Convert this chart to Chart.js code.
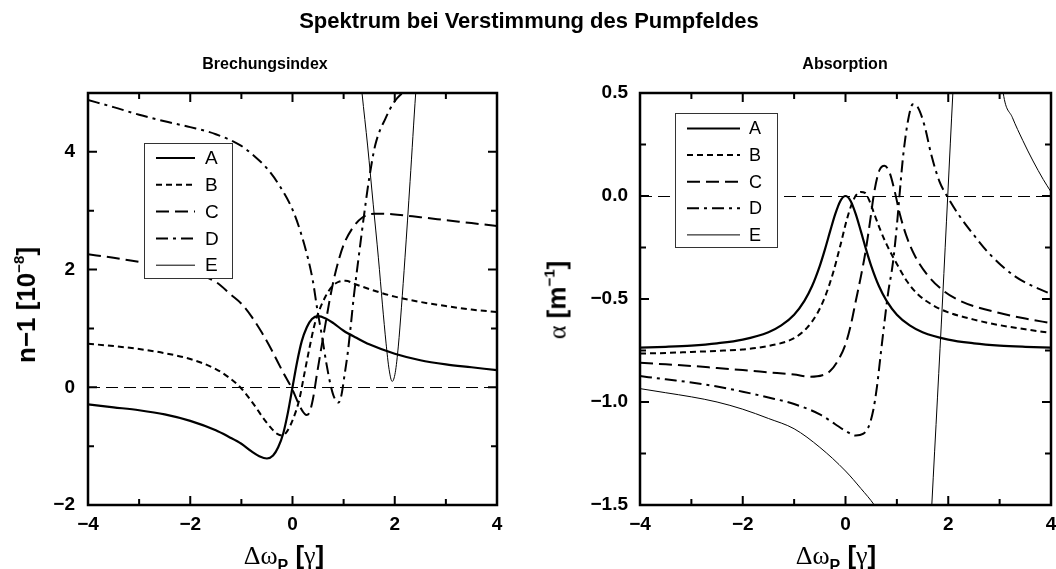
<!DOCTYPE html>
<html lang="de">
<head>
<meta charset="utf-8">
<title>Spektrum bei Verstimmung des Pumpfeldes</title>
<script src="https://cdn.jsdelivr.net/npm/chart.js@4.4.1/dist/chart.umd.min.js"></script>
<style>
  html, body { margin: 0; padding: 0; background: #fff; }
  body { position: relative; width: 1056px; height: 569px; overflow: hidden;
         font-family: 'Liberation Sans', Arial, Helvetica, sans-serif; color: #000; }
  canvas { position: absolute; top: 0; }
  #cvBrech { left: 0; }
  #cvAbs { left: 530px; }
  .txt { position: absolute; white-space: nowrap; line-height: 1; font-weight: bold; }
  .greek { font-family: 'Liberation Serif', 'DejaVu Serif', serif; font-weight: normal; }
  .sup { font-size: 15px; position: relative; top: -11px; }
  .sub { font-size: 16px; position: relative; top: 7px; }
  .ytitle { transform: translate(-50%, -50%) rotate(-90deg); font-size: 26px; }
  .xtitle { width: 200px; text-align: center; font-size: 26px; top: 542px; }
</style>
</head>
<body>
<canvas id="cvBrech" width="530" height="569"></canvas>
<canvas id="cvAbs" width="540" height="569"></canvas>

<div class="txt" style="left:0; width:1058px; top:10px; text-align:center; font-size:22px;">Spektrum bei Verstimmung des Pumpfeldes</div>
<div class="txt" style="left:165px; width:200px; top:56px; text-align:center; font-size:16px;">Brechungsindex</div>
<div class="txt" style="left:745px; width:200px; top:56px; text-align:center; font-size:16px;">Absorption</div>

<div class="txt ytitle" style="left:26px; top:305px;">n&minus;1 [10<span class="sup">&minus;8</span>]</div>
<div class="txt ytitle" style="left:557px; top:300px;"><span class="greek">&alpha;</span> [m<span class="sup">&minus;1</span>]</div>

<div class="txt xtitle" style="left:184px;"><span class="greek">&Delta;&omega;</span><span class="sub">P</span> [<span class="greek">&gamma;</span>]</div>
<div class="txt xtitle" style="left:736px;"><span class="greek">&Delta;&omega;</span><span class="sub">P</span> [<span class="greek">&gamma;</span>]</div>

<script>
// Kurven A–E, jeweils [Verstimmung, Wert]
const seriesNames = ['A', 'B', 'C', 'D', 'E'];

// Brechungsindex n-1 in 1e-8
const brechA = [[-4,-0.29],[-3.5,-0.34],[-3,-0.39],[-2.5,-0.46],[-2,-0.57],[-1.5,-0.73],[-1.25,-0.84],[-1,-0.96],
  [-0.8,-1.09],[-0.65,-1.17],[-0.5,-1.21],[-0.38,-1.16],[-0.28,-1.02],[-0.18,-0.78],[-0.09,-0.43],[0,0],
  [0.09,0.43],[0.18,0.78],[0.28,1.02],[0.38,1.16],[0.5,1.21],[0.65,1.17],[0.8,1.09],[1,0.96],[1.25,0.84],
  [1.5,0.73],[2,0.57],[2.5,0.46],[3,0.39],[3.5,0.34],[4,0.29]];
const brechB = [[-4,0.74],[-3.5,0.7],[-3,0.65],[-2.5,0.58],[-2,0.48],[-1.5,0.31],[-1.25,0.17],[-1,-0.02],
  [-0.75,-0.3],[-0.55,-0.55],[-0.4,-0.71],[-0.3,-0.79],[-0.2,-0.82],[-0.1,-0.74],[0.02,-0.52],[0.13,-0.22],
  [0.23,0.22],[0.33,0.66],[0.43,1.06],[0.52,1.3],[0.65,1.55],[0.77,1.71],[0.9,1.79],[1.04,1.81],[1.23,1.75],
  [1.5,1.67],[1.75,1.6],[2,1.54],[2.5,1.45],[3,1.38],[3.5,1.32],[4,1.28]];
const brechC = [[-4,2.26],[-3.5,2.2],[-3,2.13],[-2.5,2.06],[-2,1.96],[-1.5,1.79],[-1.2,1.57],[-1,1.42],
  [-0.8,1.2],[-0.6,0.93],[-0.4,0.62],[-0.2,0.28],[0,-0.04],[0.12,-0.28],[0.2,-0.41],[0.27,-0.47],[0.33,-0.43],
  [0.4,-0.2],[0.47,0.18],[0.55,0.6],[0.63,1.0],[0.72,1.45],[0.8,1.8],[0.9,2.15],[1.0,2.42],[1.17,2.7],
  [1.36,2.88],[1.6,2.95],[1.95,2.94],[2.5,2.89],[3,2.84],[3.5,2.79],[4,2.74]];
const brechD = [[-4,4.88],[-3.5,4.76],[-3,4.63],[-2.5,4.52],[-2,4.42],[-1.5,4.3],[-1,4.1],[-0.75,3.93],
  [-0.5,3.72],[-0.25,3.42],[0,3.02],[0.15,2.66],[0.3,2.2],[0.4,1.8],[0.48,1.35],[0.58,0.85],[0.66,0.42],
  [0.75,0.02],[0.82,-0.18],[0.9,-0.26],[0.96,-0.12],[1.02,0.22],[1.08,0.58],[1.14,1.05],[1.2,1.55],[1.3,2.25],
  [1.4,2.93],[1.5,3.55],[1.62,4.12],[1.82,4.57],[2.0,4.86],[2.15,5.0],[2.3,5.12]];
const brechE = [[1.25,6.0],[1.36,5.0],[1.47,4.1],[1.58,3.1],[1.68,2.2],[1.76,1.4],[1.83,0.75],[1.89,0.3],
  [1.95,0.1],[2.01,0.25],[2.07,0.7],[2.13,1.35],[2.2,2.2],[2.3,3.5],[2.41,5.0],[2.5,6.0]];

// Absorption alpha in 1/m
const absA = [[-4,-0.736],[-3.5,-0.732],[-3,-0.726],[-2.5,-0.715],[-2,-0.697],[-1.5,-0.661],[-1.25,-0.628],
  [-1,-0.576],[-0.8,-0.509],[-0.65,-0.437],[-0.5,-0.339],[-0.4,-0.259],[-0.3,-0.172],[-0.2,-0.088],[-0.1,-0.024],
  [0,0],[0.1,-0.024],[0.2,-0.088],[0.3,-0.172],[0.4,-0.259],[0.5,-0.339],[0.65,-0.437],[0.8,-0.509],[1,-0.576],
  [1.25,-0.628],[1.5,-0.661],[2,-0.697],[2.5,-0.715],[3,-0.726],[3.5,-0.732],[4,-0.736]];
const absB = [[-4,-0.765],[-3.5,-0.762],[-3,-0.757],[-2.5,-0.752],[-2,-0.745],[-1.5,-0.728],[-1,-0.69],
  [-0.75,-0.64],[-0.55,-0.57],[-0.4,-0.49],[-0.25,-0.38],[-0.1,-0.24],[0.02,-0.12],[0.12,-0.04],[0.21,0.005],
  [0.3,0.02],[0.38,0.015],[0.46,-0.02],[0.55,-0.08],[0.67,-0.16],[0.8,-0.235],[1.0,-0.33],[1.2,-0.415],
  [1.4,-0.475],[1.7,-0.53],[2.0,-0.565],[2.5,-0.6],[3,-0.627],[3.5,-0.647],[4,-0.665]];
const absC = [[-4,-0.81],[-3.5,-0.817],[-3,-0.825],[-2.5,-0.835],[-2,-0.845],[-1.5,-0.856],[-1,-0.867],
  [-0.7,-0.877],[-0.45,-0.87],[-0.3,-0.85],[-0.15,-0.8],[0,-0.72],[0.1,-0.63],[0.2,-0.51],[0.3,-0.39],
  [0.4,-0.255],[0.48,-0.12],[0.56,0.02],[0.66,0.125],[0.76,0.147],[0.86,0.112],[0.96,0.02],[1.06,-0.09],
  [1.18,-0.19],[1.35,-0.29],[1.6,-0.385],[1.93,-0.465],[2.2,-0.505],[2.5,-0.535],[3,-0.568],[3.5,-0.595],[4,-0.617]];
const absD = [[-4,-0.874],[-3.5,-0.89],[-3,-0.905],[-2.5,-0.925],[-2,-0.95],[-1.5,-0.978],[-1,-1.01],
  [-0.5,-1.06],[-0.2,-1.108],[0,-1.14],[0.2,-1.163],[0.34,-1.155],[0.45,-1.12],[0.54,-1.04],[0.61,-0.93],
  [0.68,-0.78],[0.75,-0.63],[0.83,-0.47],[0.92,-0.33],[0.99,-0.17],[1.05,0.0],[1.12,0.19],[1.22,0.37],
  [1.31,0.445],[1.41,0.43],[1.54,0.34],[1.67,0.2],[1.83,0.07],[2.0,-0.01],[2.2,-0.09],[2.5,-0.19],
  [2.8,-0.28],[3.3,-0.39],[4,-0.477]];
const absE = [[-4,-0.935],[-3.5,-0.955],[-3,-0.975],[-2.5,-1.0],[-2,-1.035],[-1.5,-1.08],[-1,-1.13],
  [-0.5,-1.22],[0,-1.335],[0.3,-1.42],[0.56,-1.5],[0.8,-1.6],[1.1,-1.8],[1.35,-2.0],[1.55,-2.1],[1.62,-1.8],
  [1.68,-1.5],[1.79,-0.98],[1.89,-0.5],[1.99,0.0],[2.09,0.5],[2.2,1.0],[2.5,1.6],[2.8,1.2],[3.07,0.5],
  [3.25,0.38],[3.45,0.27],[3.65,0.17],[3.85,0.08],[4,0.02]];

// beschriftete Achsenwerte
const xTickLabels = [-4, -2, 0, 2, 4];
const brechTickLabels = [-2, 0, 2, 4];
const absTickLabels = [-1.5, -1, -0.5, 0, 0.5];

Chart.defaults.font.family = "'Liberation Sans', Arial, Helvetica, sans-serif";
Chart.defaults.color = '#000';

const lineStyles = [
  { borderWidth: 2.2, borderDash: [] },
  { borderWidth: 2, borderDash: [6, 4] },
  { borderWidth: 2, borderDash: [13, 6] },
  { borderWidth: 2, borderDash: [12, 5, 3, 5] },
  { borderWidth: 1, borderDash: [] }
];

const toPts = arr => arr.map(([x, y]) => ({ x, y }));
const hasLabel = (list, v) => list.some(l => Math.abs(l - v) < 1e-6);
const fmt = (v, d) => (v < -1e-9 ? '\u2212' : '') + Math.abs(v).toFixed(d);

function makeDatasets(curves) {
  return curves.map((pts, i) => Object.assign({
    label: seriesNames[i],
    data: toPts(pts),
    borderColor: '#000',
    pointRadius: 0,
    fill: false,
    cubicInterpolationMode: 'monotone'
  }, lineStyles[i]));
}

// Rahmen mit Ticks nach innen auf allen Seiten, gestrichelte Nulllinie
const frameTicks = {
  id: 'frameTicks',
  beforeDatasetsDraw(chart) {
    const { ctx, chartArea: a, scales: { y } } = chart;
    const y0 = Math.round(y.getPixelForValue(0)) + 0.5;
    ctx.save();
    ctx.beginPath();
    ctx.setLineDash([12, 6]);
    ctx.lineWidth = 1;
    ctx.strokeStyle = '#000';
    ctx.moveTo(a.left, y0);
    ctx.lineTo(a.right, y0);
    ctx.stroke();
    ctx.restore();
  },
  afterDraw(chart, args, opts) {
    const { ctx, chartArea: a, scales: { x, y } } = chart;
    ctx.save();
    ctx.strokeStyle = '#000';
    ctx.lineWidth = 2;
    ctx.beginPath();
    x.ticks.forEach(t => {
      const px = x.getPixelForValue(t.value);
      const len = hasLabel(xTickLabels, t.value) ? 9 : 6;
      ctx.moveTo(px, a.bottom); ctx.lineTo(px, a.bottom - len);
      ctx.moveTo(px, a.top); ctx.lineTo(px, a.top + len);
    });
    y.ticks.forEach(t => {
      const py = y.getPixelForValue(t.value);
      const len = hasLabel(opts.yLabels, t.value) ? 9 : 6;
      ctx.moveTo(a.left, py); ctx.lineTo(a.left + len, py);
      ctx.moveTo(a.right, py); ctx.lineTo(a.right - len, py);
    });
    ctx.stroke();
    ctx.lineWidth = 2.5;
    ctx.strokeRect(a.left, a.top, a.right - a.left, a.bottom - a.top);
    ctx.restore();
  }
};

// Legende als Kasten im Diagramm
const legendBox = {
  id: 'legendBox',
  afterDatasetsDraw(chart, args, o) {
    const ctx = chart.ctx;
    ctx.save();
    ctx.fillStyle = '#fff';
    ctx.fillRect(o.x, o.y, o.w, o.h);
    ctx.lineWidth = 1;
    ctx.strokeStyle = '#333';
    ctx.strokeRect(o.x + 0.5, o.y + 0.5, o.w, o.h);
    ctx.font = o.fontSize + "px 'Liberation Sans', Arial, sans-serif";
    ctx.textBaseline = 'middle';
    ctx.textAlign = 'left';
    chart.data.datasets.forEach((ds, i) => {
      const cy = o.y + o.first + i * o.row;
      ctx.beginPath();
      ctx.setLineDash(ds.borderDash || []);
      ctx.lineWidth = ds.borderWidth;
      ctx.strokeStyle = '#000';
      ctx.moveTo(o.x + o.pad, cy);
      ctx.lineTo(o.x + o.pad + o.sample, cy);
      ctx.stroke();
      ctx.setLineDash([]);
      ctx.fillStyle = '#000';
      ctx.fillText(ds.label, o.x + o.pad + o.sample + o.gap, cy + 1);
    });
    ctx.restore();
  }
};

function makeChart(id, curves, cfg) {
  return new Chart(document.getElementById(id), {
    type: 'line',
    data: { datasets: makeDatasets(curves) },
    plugins: [frameTicks, legendBox],
    options: {
      responsive: false,
      animation: false,
      events: [],
      layout: { padding: { left: 0, top: 93, right: cfg.padRight, bottom: 0 } },
      plugins: {
        legend: { display: false },
        tooltip: { enabled: false },
        frameTicks: { yLabels: cfg.yLabels },
        legendBox: cfg.legend
      },
      scales: {
        x: {
          type: 'linear', min: -4, max: 4,
          grid: { display: false }, border: { display: false },
          afterFit: s => { s.height = 64; },
          ticks: {
            stepSize: 1, autoSkip: false, maxRotation: 0, padding: 0,
            font: { size: 19, weight: 'bold' }, color: '#000',
            callback: v => hasLabel(xTickLabels, v) ? fmt(v, 0) : ''
          }
        },
        y: {
          type: 'linear', min: cfg.yMin, max: cfg.yMax,
          grid: { display: false }, border: { display: false },
          afterFit: s => { s.width = cfg.yWidth; },
          ticks: {
            stepSize: cfg.yStep, autoSkip: false, padding: cfg.yPad,
            font: { size: 19, weight: 'bold' }, color: '#000',
            callback: v => hasLabel(cfg.yLabels, v) ? fmt(v, cfg.decimals) : ''
          }
        }
      }
    }
  });
}

makeChart('cvBrech', [brechA, brechB, brechC, brechD, brechE], {
  yMin: -2, yMax: 5, yStep: 1, yLabels: brechTickLabels, decimals: 0,
  yWidth: 88, yPad: 5, padRight: 33,
  legend: { x: 144, y: 143, w: 88, h: 135, first: 15, row: 26.8, pad: 12, sample: 39, gap: 10, fontSize: 19 }
});

makeChart('cvAbs', [absA, absB, absC, absD, absE], {
  yMin: -1.5, yMax: 0.5, yStep: 0.25, yLabels: absTickLabels, decimals: 1,
  yWidth: 110, yPad: 4, padRight: 19,
  legend: { x: 145, y: 113, w: 102, h: 134, first: 15.5, row: 26.6, pad: 12, sample: 53, gap: 9, fontSize: 18 }
});
</script>
</body>
</html>
